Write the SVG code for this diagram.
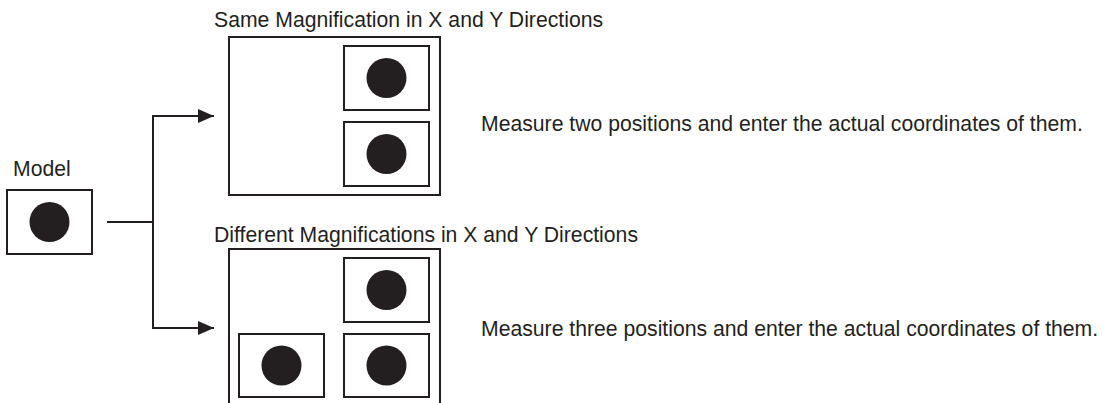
<svg xmlns="http://www.w3.org/2000/svg" width="1109" height="403" viewBox="0 0 1109 403">
<style>
.box{fill:#fff;stroke:#231f20;stroke-width:2}
.dot{fill:#231f20}
.ln{fill:none;stroke:#231f20;stroke-width:2}
text{font-family:"Liberation Sans",Arial,sans-serif;font-size:21.2px;fill:#231f20}
</style>
<defs>
<marker id="ah" viewBox="0 0 16 14" refX="16" refY="7" markerWidth="16" markerHeight="14" markerUnits="userSpaceOnUse" orient="auto">
<path d="M0,0 L16,7 L0,14 Z" fill="#231f20"/>
</marker>
</defs>
<rect width="1109" height="403" fill="#fff"/>
<g id="model">
<text x="13" y="176">Model</text>
<rect class="box" x="7" y="190" width="85" height="64"/>
<circle class="dot" cx="49.5" cy="222" r="20"/>
</g>
<g id="same">
<text x="214" y="27">Same Magnification in X and Y Directions</text>
<rect class="box" x="229" y="37" width="211" height="158"/>
<rect class="box" x="344" y="46" width="85" height="64"/>
<circle class="dot" cx="386.5" cy="78" r="20"/>
<rect class="box" x="344" y="122" width="85" height="64"/>
<circle class="dot" cx="386.5" cy="154" r="20"/>
<text x="481" y="131">Measure two positions and enter the actual coordinates of them.</text>
</g>
<g id="different">
<text x="214" y="242">Different Magnifications in X and Y Directions</text>
<path class="ln" d="M229,405 V249 H440 V405"/>
<rect class="box" x="344" y="258" width="85" height="64"/>
<circle class="dot" cx="386.5" cy="290" r="20"/>
<rect class="box" x="239" y="334" width="85" height="63"/>
<circle class="dot" cx="281.5" cy="365.5" r="20"/>
<rect class="box" x="344" y="334" width="85" height="63"/>
<circle class="dot" cx="386.5" cy="365.5" r="20"/>
<text x="481" y="336">Measure three positions and enter the actual coordinates of them.</text>
</g>
<g id="connectors">
<path class="ln" d="M107,222 H153"/>
<path class="ln" d="M153,116 V328"/>
<path class="ln" d="M152,116 H214" marker-end="url(#ah)"/>
<path class="ln" d="M152,328 H214" marker-end="url(#ah)"/>
</g>
</svg>
